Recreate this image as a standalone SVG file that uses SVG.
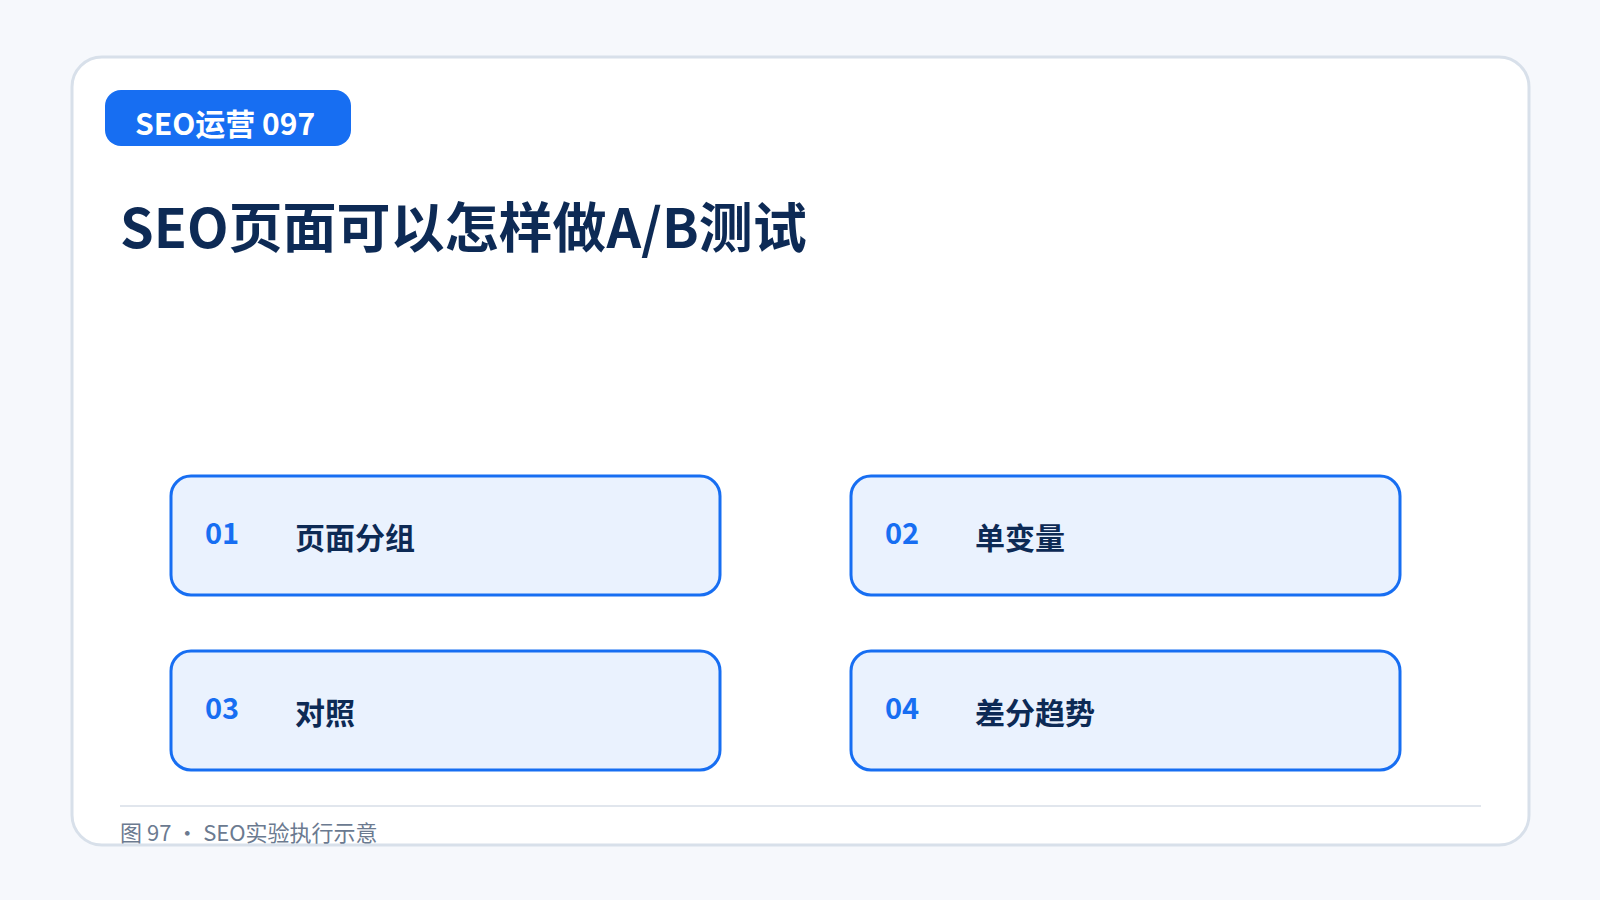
<svg xmlns="http://www.w3.org/2000/svg" width="1600" height="900" viewBox="0 0 1600 900">
<style>
.cjk{font-family:"Noto Sans CJK SC","Noto Sans",sans-serif}
.box{fill:#eaf2fe;stroke:#176ef2;stroke-width:3}
.num{font-size:29px;font-weight:700;fill:#176ef2}
.lbl{font-size:30px;font-weight:700;fill:#0d2a55}
</style>
<rect width="1600" height="900" fill="#f6f8fc"/>
<g id="card">
<rect x="72" y="57" width="1457" height="788" rx="30" fill="#ffffff" stroke="#d8e0ea" stroke-width="3"/>
</g>
<g id="badge">
<rect x="105" y="90" width="246" height="56" rx="16" fill="#176ef2"/>
<text x="135" y="135" class="cjk" font-size="30" font-weight="700" fill="#ffffff">SEO运营 097</text>
</g>
<g id="title">
<text x="120" y="248" class="cjk" font-size="54" font-weight="700" fill="#0d2a55">SEO页面可以怎样做A/B测试</text>
</g>
<g id="connectors"></g>
<g id="node1">
<rect class="box" x="171" y="476" width="549" height="119" rx="20"/>
<text class="cjk num" x="205" y="544">01</text>
<text class="cjk lbl" x="295" y="549">页面分组</text>
</g>
<g id="node2">
<rect class="box" x="851" y="476" width="549" height="119" rx="20"/>
<text class="cjk num" x="885" y="544">02</text>
<text class="cjk lbl" x="975" y="549">单变量</text>
</g>
<g id="node3">
<rect class="box" x="171" y="651" width="549" height="119" rx="20"/>
<text class="cjk num" x="205" y="719">03</text>
<text class="cjk lbl" x="295" y="724">对照</text>
</g>
<g id="node4">
<rect class="box" x="851" y="651" width="549" height="119" rx="20"/>
<text class="cjk num" x="885" y="719">04</text>
<text class="cjk lbl" x="975" y="724">差分趋势</text>
</g>
<g id="footer">
<line x1="120" y1="806" x2="1481" y2="806" stroke="#e1e6ed" stroke-width="2"/>
<text x="120" y="841" class="cjk" font-size="22" fill="#6b7a90">图 97 · SEO实验执行示意</text>
</g>
</svg>
